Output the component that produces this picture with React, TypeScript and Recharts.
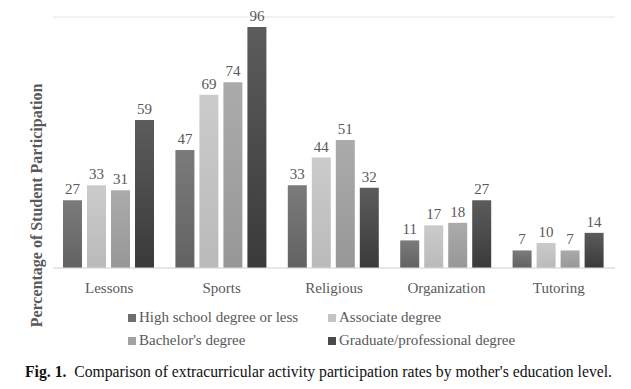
import { BarChart, Bar, XAxis, YAxis, CartesianGrid, Legend, LabelList } from 'recharts'

const categories = ['Lessons', 'Sports', 'Religious', 'Organization', 'Tutoring']
const highSchool = [27, 47, 33, 11, 7]
const associate = [33, 69, 44, 17, 10]
const bachelor = [31, 74, 51, 18, 7]
const graduate = [59, 96, 32, 27, 14]
const yTicks = [0, 20, 40, 60, 80, 100]

const series = [
  { key: 'hs', name: 'High school degree or less', top: '#7b7b7b', bottom: '#626262', swatch: '#6e6e6e' },
  { key: 'as', name: 'Associate degree', top: '#cbcbcb', bottom: '#bababa', swatch: '#c4c4c4' },
  { key: 'ba', name: "Bachelor's degree", top: '#ababab', bottom: '#979797', swatch: '#a2a2a2' },
  { key: 'gr', name: 'Graduate/professional degree', top: '#5c5c5c', bottom: '#3a3a3a', swatch: '#4a4a4a' },
]

const data = categories.map((c, i) => ({
  name: c,
  hs: highSchool[i],
  as: associate[i],
  ba: bachelor[i],
  gr: graduate[i],
}))

const FONT = '"Liberation Serif", "DejaVu Serif", serif'
const TXT = '#595959'

const renderLegend = () => (
  <div style={{ display: 'grid', gridTemplateColumns: '200px 220px', rowGap: 2, fontFamily: FONT, fontSize: 15, color: TXT }}>
    {series.map(s => (
      <div key={s.key} style={{ display: 'flex', alignItems: 'center', height: 21, whiteSpace: 'nowrap' }}>
        <span style={{ display: 'inline-block', width: 8, height: 8, background: s.swatch, marginRight: 3 }} />
        {s.name}
      </div>
    ))}
  </div>
)

export default function App() {
  return (
    <div style={{ position: 'absolute', left: 0, top: 0, width: 631, height: 389, background: '#fff' }}>
      <BarChart width={631} height={389} data={data} margin={{ top: 17, right: 16, left: 0, bottom: 91 }}
        barCategoryGap={10} barGap={5}>
        <defs>
          {series.map(s => (
            <linearGradient key={s.key} id={`g-${s.key}`} x1="0" y1="0" x2="0" y2="1">
              <stop offset="0%" stopColor={s.top} />
              <stop offset="100%" stopColor={s.bottom} />
            </linearGradient>
          ))}
        </defs>
        <CartesianGrid vertical={false} stroke="#e4e4e4" />
        <XAxis dataKey="name" axisLine={{ stroke: '#dcdcdc' }} tickLine={false} height={30}
          tick={{ fontSize: 15, fill: TXT, fontFamily: FONT }} tickMargin={8} />
        <YAxis domain={[0, 100]} ticks={yTicks} width={53} tick={false} axisLine={false} tickLine={false}
          label={{ value: 'Percentage of Student Participation', angle: -90, position: 'center', dx: 10, dy: 63,
            style: { fontSize: 16, fontWeight: 'bold', fill: TXT, fontFamily: FONT, textAnchor: 'middle' } }} />
        <Legend layout="vertical" align="center" verticalAlign="middle" content={renderLegend}
          wrapperStyle={{ left: 128, top: 307, width: 430 }} />
        {series.map(s => (
          <Bar key={s.key} dataKey={s.key} name={s.name} fill={`url(#g-${s.key})`} isAnimationActive={false}>
            <LabelList dataKey={s.key} position="top" offset={6}
              style={{ fontSize: 15, fill: TXT, fontFamily: FONT }} />
          </Bar>
        ))}
      </BarChart>
      <div style={{ position: 'absolute', left: 25, top: 363, fontFamily: FONT, fontSize: 15.7, color: '#111', whiteSpace: 'nowrap' }}>
        <b>Fig. 1.</b>&nbsp; Comparison of extracurricular activity participation rates by mother's education level.
      </div>
    </div>
  )
}
